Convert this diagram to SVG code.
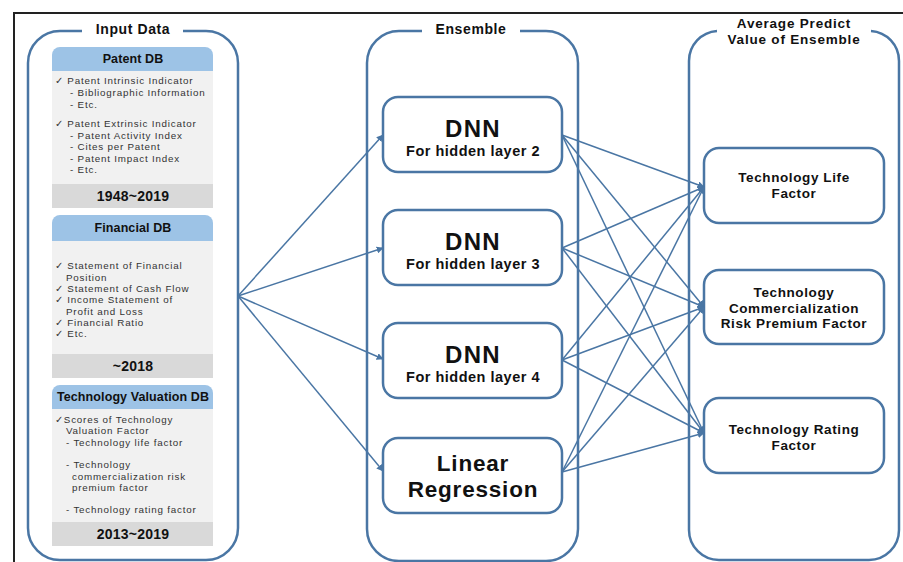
<svg xmlns="http://www.w3.org/2000/svg" width="903" height="562" viewBox="0 0 903 562">
<defs>
<style>
.frame{fill:none;stroke:#222;stroke-width:2}
.cont{fill:none;stroke:#4a76a4;stroke-width:2.5}
.box{fill:#fff;stroke:#4a76a4;stroke-width:2.5}
.hdr{fill:#9dc3e6}
.body{fill:#f1f1f1}
.foot{fill:#d9d9d9}
.ttl{font-family:"Liberation Sans",Arial,sans-serif;font-weight:bold;fill:#111;text-anchor:middle}
.t14{font-size:14px;letter-spacing:0.6px}
.avg{font-size:13.5px;letter-spacing:0.8px}
.h12{font-size:12.5px;letter-spacing:0.1px}
.f14{font-size:14px;letter-spacing:0.2px}
.big{font-size:24px;letter-spacing:1.3px}
.sub{font-size:14.5px;letter-spacing:0.5px}
.lr{font-size:22.5px;letter-spacing:0.8px}
.rb{font-size:13.5px;letter-spacing:0.6px}
.txt{font-family:"Liberation Sans",Arial,sans-serif;font-size:9.8px;letter-spacing:0.8px;fill:#333}
.con{stroke:#4a76a4;stroke-width:1.5;fill:none;marker-end:url(#ah)}
</style>
<marker id="ah" viewBox="0 0 10 10" refX="9" refY="5" markerWidth="7" markerHeight="7" markerUnits="userSpaceOnUse" orient="auto">
<path d="M0,0 L10,5 L0,10 z" fill="#4a76a4"/>
</marker>
</defs>
<rect width="903" height="562" fill="#fff"/>
<path class="frame" d="M14,562 V13 H903"/>

<g id="input-data">
<path class="cont" d="M183,31 H206 A32,32 0 0 1 238,63 V528 A32,32 0 0 1 206,560 H60 A32,32 0 0 1 28,528 V63 A32,32 0 0 1 60,31 H82"/>
<text class="ttl t14" x="133" y="34">Input Data</text>
</g>

<g id="patent-db">
<path class="hdr" d="M52,71 V55 A8,8 0 0 1 60,47 H205 A8,8 0 0 1 213,55 V71 Z"/>
<rect class="body" x="52" y="71" width="161" height="113"/>
<rect class="foot" x="52" y="184" width="161" height="24"/>
<text class="ttl h12" x="133" y="63">Patent DB</text>
<text class="txt" x="55" y="84">✓ Patent Intrinsic Indicator</text>
<text class="txt" x="70" y="96">- Bibliographic Information</text>
<text class="txt" x="70" y="108">- Etc.</text>
<text class="txt" x="55" y="127">✓ Patent Extrinsic Indicator</text>
<text class="txt" x="70" y="139">- Patent Activity Index</text>
<text class="txt" x="70" y="150">- Cites per Patent</text>
<text class="txt" x="70" y="162">- Patent Impact Index</text>
<text class="txt" x="70" y="173">- Etc.</text>
<text class="ttl f14" x="133" y="201">1948~2019</text>
</g>

<g id="financial-db">
<path class="hdr" d="M52,241 V223 A8,8 0 0 1 60,215 H205 A8,8 0 0 1 213,223 V241 Z"/>
<rect class="body" x="52" y="241" width="161" height="113"/>
<rect class="foot" x="52" y="354" width="161" height="24"/>
<text class="ttl h12" x="133" y="232">Financial DB</text>
<text class="txt" x="55" y="269">✓ Statement of Financial</text>
<text class="txt" x="66" y="281">Position</text>
<text class="txt" x="55" y="292">✓ Statement of Cash Flow</text>
<text class="txt" x="55" y="303">✓ Income Statement of</text>
<text class="txt" x="66" y="315">Profit and Loss</text>
<text class="txt" x="55" y="326">✓ Financial Ratio</text>
<text class="txt" x="55" y="337">✓ Etc.</text>
<text class="ttl f14" x="133" y="371">~2018</text>
</g>

<g id="tech-valuation-db">
<path class="hdr" d="M52,409 V393 A8,8 0 0 1 60,385 H205 A8,8 0 0 1 213,393 V409 Z"/>
<rect class="body" x="52" y="409" width="161" height="113"/>
<rect class="foot" x="52" y="522" width="161" height="24"/>
<text class="ttl h12" x="133" y="401">Technology Valuation DB</text>
<text class="txt" x="55" y="423">✓Scores of Technology</text>
<text class="txt" x="66" y="434">Valuation Factor</text>
<text class="txt" x="66" y="446">- Technology life factor</text>
<text class="txt" x="66" y="468">- Technology</text>
<text class="txt" x="72" y="480">commercialization risk</text>
<text class="txt" x="72" y="491">premium factor</text>
<text class="txt" x="66" y="513">- Technology rating factor</text>
<text class="ttl f14" x="133" y="539">2013~2019</text>
</g>

<g id="ensemble">
<path class="cont" d="M520,31 H546 A32,32 0 0 1 578,63 V529 A32,32 0 0 1 546,561 H399 A32,32 0 0 1 367,529 V63 A32,32 0 0 1 399,31 H422"/>
<text class="ttl t14" x="471" y="34">Ensemble</text>
</g>

<g id="dnn2">
<rect class="box" x="383" y="97" width="179" height="75" rx="15"/>
<text class="ttl big" x="473" y="137">DNN</text>
<text class="ttl sub" x="473" y="156">For hidden layer 2</text>
</g>
<g id="dnn3">
<rect class="box" x="383" y="210" width="179" height="75" rx="15"/>
<text class="ttl big" x="473" y="250">DNN</text>
<text class="ttl sub" x="473" y="269">For hidden layer 3</text>
</g>
<g id="dnn4">
<rect class="box" x="383" y="323" width="179" height="75" rx="15"/>
<text class="ttl big" x="473" y="363">DNN</text>
<text class="ttl sub" x="473" y="382">For hidden layer 4</text>
</g>
<g id="linear-regression">
<rect class="box" x="383" y="438" width="179" height="75" rx="15"/>
<text class="ttl lr" x="473" y="471">Linear</text>
<text class="ttl lr" x="473" y="496.5">Regression</text>
</g>

<g id="average">
<path class="cont" d="M871,31 A30,30 0 0 1 899,61 V530 A30,30 0 0 1 869,560 H719 A30,30 0 0 1 689,530 V61 A30,30 0 0 1 717,31"/>
<text class="ttl avg" x="794" y="28">Average Predict</text>
<text class="ttl avg" x="794" y="43.5">Value of Ensemble</text>
</g>

<g id="tech-life">
<rect class="box" x="704" y="148" width="180" height="75" rx="15"/>
<text class="ttl rb" x="794" y="182">Technology Life</text>
<text class="ttl rb" x="794" y="198">Factor</text>
</g>
<g id="tech-commercialization">
<rect class="box" x="704" y="270" width="180" height="74" rx="15"/>
<text class="ttl rb" x="794" y="297">Technology</text>
<text class="ttl rb" x="794" y="312.5">Commercialization</text>
<text class="ttl rb" x="794" y="328">Risk Premium Factor</text>
</g>
<g id="tech-rating">
<rect class="box" x="704" y="398" width="180" height="75" rx="15"/>
<text class="ttl rb" x="794" y="434">Technology Rating</text>
<text class="ttl rb" x="794" y="450">Factor</text>
</g>

<g id="connectors">
<line class="con" x1="238" y1="296" x2="383" y2="135"/>
<line class="con" x1="238" y1="296" x2="383" y2="248"/>
<line class="con" x1="238" y1="296" x2="383" y2="359"/>
<line class="con" x1="238" y1="296" x2="383" y2="471"/>
<line class="con" x1="562" y1="135" x2="704" y2="187"/>
<line class="con" x1="562" y1="135" x2="704" y2="307"/>
<line class="con" x1="562" y1="135" x2="704" y2="433"/>
<line class="con" x1="562" y1="248" x2="704" y2="187"/>
<line class="con" x1="562" y1="248" x2="704" y2="307"/>
<line class="con" x1="562" y1="248" x2="704" y2="433"/>
<line class="con" x1="562" y1="360" x2="704" y2="187"/>
<line class="con" x1="562" y1="360" x2="704" y2="307"/>
<line class="con" x1="562" y1="360" x2="704" y2="433"/>
<line class="con" x1="562" y1="472" x2="704" y2="187"/>
<line class="con" x1="562" y1="472" x2="704" y2="307"/>
<line class="con" x1="562" y1="472" x2="704" y2="433"/>
</g>
</svg>
